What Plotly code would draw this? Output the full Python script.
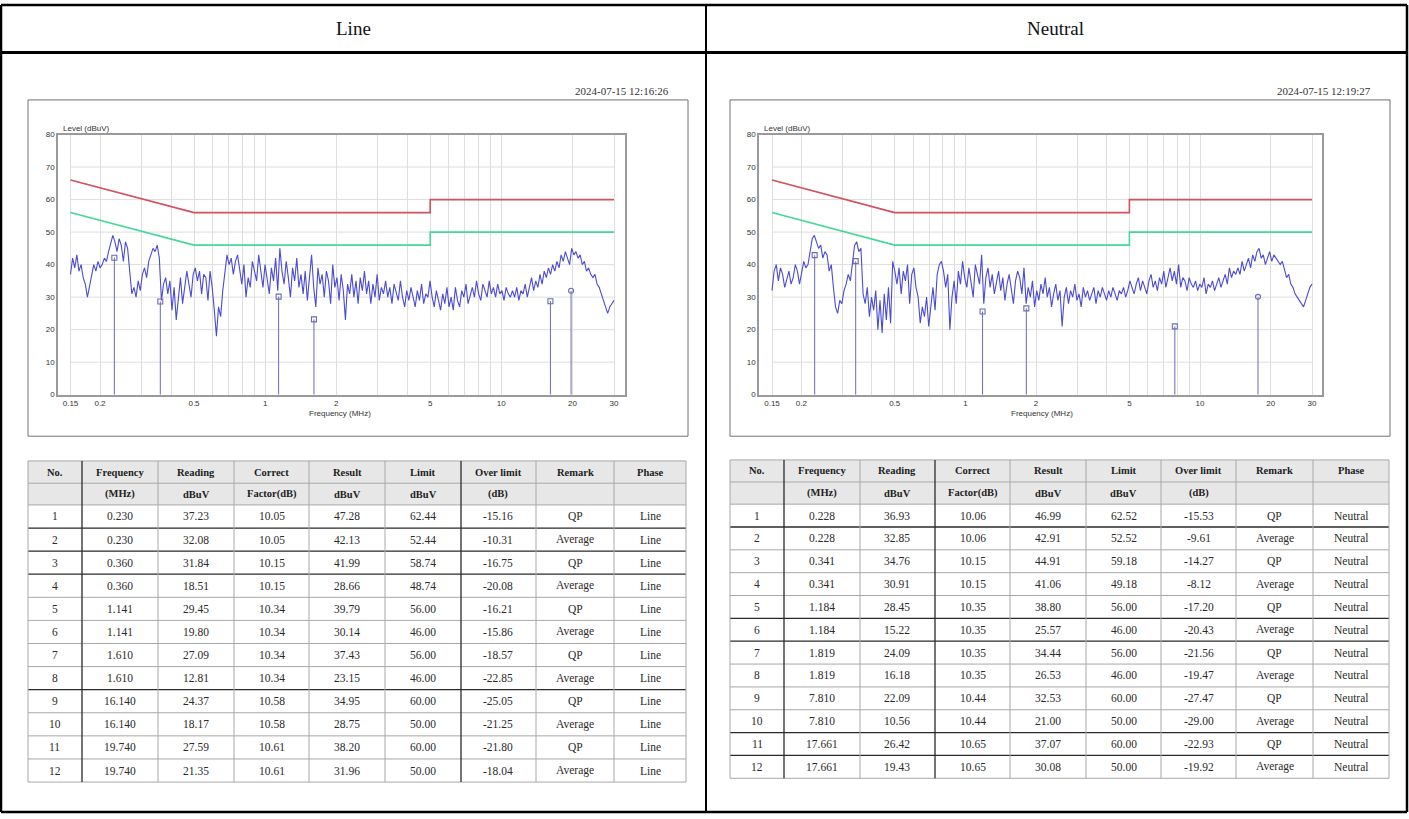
import numpy as np
import plotly.graph_objects as go

W, H = 1409, 819

# ---------------- sweep traces (dBuV), 0.15 - 30 MHz ----------------
line_level = [
    37, 42, 39, 43, 38, 40, 36, 34, 30, 33,
    36, 40, 38, 41, 39, 40, 42, 41, 44, 47,
    49, 47, 44, 48, 46, 41, 47, 45, 37, 31,
    33, 30, 35, 32, 37, 39, 36, 41, 43, 45,
    44, 46, 42, 29, 34, 36, 31, 35, 26, 33,
    23, 30, 36, 28, 33, 38, 34, 30, 37, 39,
    35, 38, 31, 37, 36, 29, 38, 33, 26, 18,
    27, 24, 32, 38, 43, 40, 42, 37, 41, 43,
    39, 34, 40, 30, 36, 33, 41, 38, 35, 43,
    37, 33, 40, 36, 31, 39, 35, 42, 32, 45,
    38, 34, 41, 36, 30, 39, 35, 42, 33, 37,
    31, 38, 29, 36, 43, 33, 27, 39, 34, 37,
    30, 38, 35, 28, 40, 33, 36, 29, 37, 32,
    23, 34, 31, 37, 30, 35, 28, 36, 32, 38,
    31, 35, 28, 34, 30, 37, 29, 33, 31, 35,
    30, 33, 28, 34, 31, 29, 35, 30, 27, 32,
    29, 33, 30, 27, 32, 29, 34, 28, 31, 30,
    35, 30, 27, 32, 29, 26, 31, 28, 33, 27,
    30, 26, 33, 29, 27, 32, 30, 34, 28, 31,
    33, 30, 35, 31, 29, 34, 32, 30, 35, 31,
    33, 30, 34, 31, 32, 29, 33, 31, 30, 32,
    30, 33, 29, 32, 31, 34, 30, 33, 36, 32,
    35, 33, 37, 34, 38, 36, 39, 37, 40, 38,
    41, 39, 43, 41, 44, 42, 40, 45, 43, 44,
    42, 43, 40, 41, 38, 39, 37, 36, 37, 34,
    33, 31, 29, 27, 25, 27, 28, 29,
]

neutral_level = [
    32, 38, 40, 35, 39, 37, 33, 36, 38, 34,
    36, 40, 38, 34, 37, 41, 39, 40, 44, 48,
    49, 47, 45, 46, 42, 44, 43, 38, 40, 33,
    27, 25, 29, 28, 32, 34, 37, 35, 41, 46,
    47, 44, 45, 31, 28, 33, 24, 30, 26, 32,
    20, 29, 19, 31, 23, 33, 22, 41, 38, 34,
    39, 31, 38, 35, 40, 28, 37, 39, 33, 30,
    22, 27, 24, 30, 21, 28, 33, 26, 37, 40,
    41, 38, 33, 37, 20, 30, 35, 28, 38, 34,
    41, 36, 33, 39, 35, 30, 40, 37, 34, 43,
    28, 36, 39, 33, 37, 31, 35, 38, 32, 36,
    29, 34, 37, 32, 28, 35, 38, 36, 31, 39,
    28, 33, 30, 35, 27, 32, 29, 34, 31, 36,
    30, 33, 27, 31, 34, 29, 32, 21, 30, 33,
    28, 32, 30, 34, 29, 31, 27, 33, 30, 32,
    29, 31, 33, 28, 32, 30, 33, 31, 29, 32,
    30, 33, 31, 29, 32, 31, 33, 30, 32, 35,
    33, 31, 34, 36, 32, 35, 33, 31, 35, 37,
    33, 35, 32, 36, 34, 38, 33, 36, 39, 35,
    38, 34, 40, 33, 36, 35, 32, 36, 34, 33,
    35, 32, 34, 33, 36, 31, 34, 33, 35, 32,
    34, 36, 33, 35, 37, 34, 39, 36, 38, 37,
    39, 37, 41, 38, 40, 42, 39, 43, 41, 44,
    45, 42, 43, 40, 42, 44, 41, 43, 42, 41,
    40, 41, 38, 36, 37, 34, 33, 31, 30, 29,
    28, 27, 29, 31, 33, 34,
]

# receiver sweep points are log spaced across the band
line_freq = np.geomspace(0.15, 30, len(line_level))
neutral_freq = np.geomspace(0.15, 30, len(neutral_level))

# CISPR 32 class B conducted limits
limit_freq = [0.15, 0.5, 5, 5, 30]
qp_limit = [66, 56, 56, 60, 60]
av_limit = [56, 46, 46, 50, 50]

# axis labels
x_major = [0.15, 0.2, 0.5, 1, 2, 5, 10, 20, 30]
x_major_text = ["0.15", "0.2", "0.5", "1", "2", "5", "10", "20", "30"]
x_minor = [0.3, 0.4, 0.6, 0.7, 0.8, 0.9, 3, 4, 6, 7, 8, 9]
y_ticks = [0, 10, 20, 30, 40, 50, 60, 70, 80]

# ---------------- result tables ----------------
header_top = ["No.", "Frequency", "Reading", "Correct", "Result", "Limit", "Over limit", "Remark", "Phase"]
header_unit = ["", "(MHz)", "dBuV", "Factor(dB)", "dBuV", "dBuV", "(dB)", "", ""]

line_no = list(range(1, 13))
line_mhz = [0.230, 0.230, 0.360, 0.360, 1.141, 1.141, 1.610, 1.610, 16.140, 16.140, 19.740, 19.740]
line_reading = [37.23, 32.08, 31.84, 18.51, 29.45, 19.80, 27.09, 12.81, 24.37, 18.17, 27.59, 21.35]
line_factor = [10.05, 10.05, 10.15, 10.15, 10.34, 10.34, 10.34, 10.34, 10.58, 10.58, 10.61, 10.61]
line_result = [47.28, 42.13, 41.99, 28.66, 39.79, 30.14, 37.43, 23.15, 34.95, 28.75, 38.20, 31.96]
line_limit = [62.44, 52.44, 58.74, 48.74, 56.00, 46.00, 56.00, 46.00, 60.00, 50.00, 60.00, 50.00]
line_over = [-15.16, -10.31, -16.75, -20.08, -16.21, -15.86, -18.57, -22.85, -25.05, -21.25, -21.80, -18.04]
line_remark = ["QP", "Average"] * 6

neutral_no = list(range(1, 13))
neutral_mhz = [0.228, 0.228, 0.341, 0.341, 1.184, 1.184, 1.819, 1.819, 7.810, 7.810, 17.661, 17.661]
neutral_reading = [36.93, 32.85, 34.76, 30.91, 28.45, 15.22, 24.09, 16.18, 22.09, 10.56, 26.42, 19.43]
neutral_factor = [10.06, 10.06, 10.15, 10.15, 10.35, 10.35, 10.35, 10.35, 10.44, 10.44, 10.65, 10.65]
neutral_result = [46.99, 42.91, 44.91, 41.06, 38.80, 25.57, 34.44, 26.53, 32.53, 21.00, 37.07, 30.08]
neutral_limit = [62.52, 52.52, 59.18, 49.18, 56.00, 46.00, 56.00, 46.00, 60.00, 50.00, 60.00, 50.00]
neutral_over = [-15.53, -9.61, -14.27, -8.12, -17.20, -20.43, -21.56, -19.47, -27.47, -29.00, -22.93, -19.92]
neutral_remark = ["QP", "Average"] * 6

# ---------------- styling ----------------
SERIF = "Liberation Serif, Times New Roman, serif"
NARROW = "Liberation Sans Narrow, Arial Narrow, Liberation Sans, sans-serif"
TRACE_BLUE = "#4b4bd4"
STEM_BLUE = "#6a6ab8"
QP_RED = "#d4505c"
AV_GREEN = "#45d89a"
GRID = "#dedede"
CELL_LINE = "#a8a8a8"
DARK_LINE = "#2a2a2a"
HEADER_FILL = "#e7e7e7"


def px(x):
    return x / W


def py(y):
    return 1 - y / H


def table_rows(no, mhz, reading, factor, result, limit, over, remark, phase):
    rows = []
    for i in range(len(no)):
        rows.append([str(no[i]), f"{mhz[i]:.3f}", f"{reading[i]:.2f}", f"{factor[i]:.2f}",
                     f"{result[i]:.2f}", f"{limit[i]:.2f}", f"{over[i]:.2f}", remark[i], phase])
    return rows


def log_range(x_lo, x_hi, px_lo, px_hi, ax_lo, ax_hi):
    """Axis range (log10) so that 0.15 MHz sits at px_lo and 30 MHz at px_hi."""
    per_dec = (px_hi - px_lo) / (np.log10(x_hi) - np.log10(x_lo))
    return [np.log10(x_lo) - (px_lo - ax_lo) / per_dec, np.log10(x_hi) + (ax_hi - px_hi) / per_dec]


panels = [
    dict(title="Line", stamp="2024-07-15 12:16:26", dx=0, xa="x", ya="y",
         ax=(58, 625), band=(70.5, 614),
         freq=line_freq, level=line_level, mhz=line_mhz, result=line_result, remark=line_remark,
         rows=table_rows(line_no, line_mhz, line_reading, line_factor, line_result,
                         line_limit, line_over, line_remark, "Line"),
         cols=[28, 82, 158, 234, 309, 385, 461, 536, 614, 686],
         head=[462, 484.5, 506.5], row_h=23.35,
         dark_cols=[1, 6], dark_rows=[1, 2, 3, 8]),
    dict(title="Neutral", stamp="2024-07-15 12:19:27", dx=702, xa="x2", ya="y2",
         ax=(759, 1322), band=(772, 1312),
         freq=neutral_freq, level=neutral_level, mhz=neutral_mhz, result=neutral_result,
         remark=neutral_remark,
         rows=table_rows(neutral_no, neutral_mhz, neutral_reading, neutral_factor, neutral_result,
                         neutral_limit, neutral_over, neutral_remark, "Neutral"),
         cols=[730, 784, 860, 935, 1010, 1086, 1161, 1236, 1313, 1389],
         head=[461, 483.3, 505.7], row_h=23.1,
         dark_cols=[1, 3], dark_rows=[1, 5, 6, 10, 11]),
]

fig = go.Figure()
shapes = []
annotations = []
layout_axes = {}

for i, p in enumerate(panels):
    dx = p["dx"]
    xa, ya = p["xa"], p["ya"]
    ax_lo, ax_hi = p["ax"]
    b_lo, b_hi = p["band"]

    # horizontal grid between 0.15 and 30 MHz
    gx, gy = [], []
    for v in y_ticks[1:-1]:
        gx += [0.15, 30, None]
        gy += [v, v, None]
    fig.add_trace(go.Scatter(x=gx, y=gy, mode="lines", line=dict(color=GRID, width=1),
                             xaxis=xa, yaxis=ya, hoverinfo="skip"))

    # limit lines
    fig.add_trace(go.Scatter(x=limit_freq, y=qp_limit, mode="lines",
                             line=dict(color=QP_RED, width=1.6), xaxis=xa, yaxis=ya))
    fig.add_trace(go.Scatter(x=limit_freq, y=av_limit, mode="lines",
                             line=dict(color=AV_GREEN, width=1.6), xaxis=xa, yaxis=ya))

    # measured spectrum
    fig.add_trace(go.Scatter(x=p["freq"], y=p["level"], mode="lines",
                             line=dict(color=TRACE_BLUE, width=1.1), xaxis=xa, yaxis=ya))

    # final-scan markers: stems up to the average result
    avg_f = [f for f, r in zip(p["mhz"], p["remark"]) if r == "Average"]
    avg_v = [v for v, r in zip(p["result"], p["remark"]) if r == "Average"]
    sx, sy = [], []
    for f, v in zip(avg_f, avg_v):
        sx += [f, f, None]
        sy += [0, v, None]
    fig.add_trace(go.Scatter(x=sx, y=sy, mode="lines", line=dict(color=STEM_BLUE, width=1),
                             xaxis=xa, yaxis=ya))
    symbols = ["square-open"] * (len(avg_f) - 1) + ["circle-open"]
    fig.add_trace(go.Scatter(x=avg_f, y=avg_v, mode="markers",
                             marker=dict(symbol=symbols, size=5, color=STEM_BLUE,
                                         line=dict(width=1.1, color=STEM_BLUE)),
                             xaxis=xa, yaxis=ya))

    axis_font = dict(family=NARROW, size=8, color="#333")
    suffix = "" if i == 0 else "2"
    layout_axes["xaxis" + suffix] = dict(
        type="log", domain=[px(ax_lo), px(ax_hi)],
        range=log_range(0.15, 30, b_lo, b_hi, ax_lo, ax_hi),
        anchor=ya, tickmode="array", tickvals=x_major, ticktext=x_major_text,
        showgrid=True, gridcolor=GRID, gridwidth=1,
        minor=dict(tickmode="array", tickvals=x_minor, showgrid=True, gridcolor=GRID, gridwidth=1),
        showline=True, linecolor="#9a9a9a", linewidth=1.5, mirror=True,
        zeroline=False, ticks="", tickfont=axis_font, fixedrange=True)
    layout_axes["yaxis" + suffix] = dict(
        domain=[py(395), py(132)], range=[0, 80], anchor=xa,
        tickmode="array", tickvals=y_ticks, showgrid=False,
        showline=True, linecolor="#9a9a9a", linewidth=1.5, mirror=True,
        zeroline=False, ticks="", tickfont=axis_font, fixedrange=True)

    # chart frame, axis captions, timestamp, panel title
    shapes.append(dict(type="rect", xref="paper", yref="paper",
                       x0=px(28 + dx), x1=px(688 + dx), y0=py(437), y1=py(97),
                       line=dict(color="#707070", width=1), layer="below"))
    annotations.append(dict(x=px(ax_lo + 3), y=py(126), xref="paper", yref="paper",
                            text="Level (dBuV)", showarrow=False, xanchor="left", yanchor="middle",
                            font=dict(family=NARROW, size=8, color="#333")))
    annotations.append(dict(x=px(340 + dx), y=py(414), xref="paper", yref="paper",
                            text="Frequency (MHz)", showarrow=False, xanchor="center",
                            yanchor="middle", font=dict(family=NARROW, size=8, color="#333")))
    annotations.append(dict(x=px(671 + dx), y=py(88), xref="paper", yref="paper",
                            text=p["stamp"], showarrow=False, xanchor="right", yanchor="middle",
                            font=dict(family=SERIF, size=11, color="#333")))
    annotations.append(dict(x=px(353 + dx), y=py(25), xref="paper", yref="paper",
                            text=p["title"], showarrow=False, xanchor="center", yanchor="middle",
                            font=dict(family=SERIF, size=19, color="#111")))

    # result table
    cols = p["cols"]
    h0, h1, h2 = p["head"]
    row_edges = [h0, h1, h2] + [h2 + p["row_h"] * (k + 1) for k in range(len(p["rows"]))]
    shapes.append(dict(type="rect", xref="paper", yref="paper",
                       x0=px(cols[0]), x1=px(cols[-1]), y0=py(h2), y1=py(h0),
                       fillcolor=HEADER_FILL, line=dict(width=0), layer="below"))
    for k, yy in enumerate(row_edges):
        dark = (k - 2) in p["dark_rows"]
        shapes.append(dict(type="line", xref="paper", yref="paper",
                           x0=px(cols[0]), x1=px(cols[-1]), y0=py(yy), y1=py(yy),
                           line=dict(color=DARK_LINE if dark else CELL_LINE,
                                     width=1.3 if dark else 1)))
    for k, xx in enumerate(cols):
        dark = k in p["dark_cols"]
        shapes.append(dict(type="line", xref="paper", yref="paper",
                           x0=px(xx), x1=px(xx), y0=py(row_edges[-1]), y1=py(h0),
                           line=dict(color=DARK_LINE if dark else CELL_LINE,
                                     width=1.3 if dark else 1)))
    for c in range(len(header_top)):
        cx = (cols[c] + cols[c + 1]) / 2
        for txt, (ya0, ya1) in ((header_top[c], (h0, h1)), (header_unit[c], (h1, h2))):
            if txt:
                annotations.append(dict(x=px(cx), y=py((ya0 + ya1) / 2), xref="paper",
                                        yref="paper", text=f"<b>{txt}</b>", showarrow=False,
                                        xanchor="center", yanchor="middle",
                                        font=dict(family=SERIF, size=10.5, color="#222")))
    for r, row in enumerate(p["rows"]):
        cy = (row_edges[r + 2] + row_edges[r + 3]) / 2
        for c, txt in enumerate(row):
            cx = (cols[c] + cols[c + 1]) / 2
            annotations.append(dict(x=px(cx), y=py(cy), xref="paper", yref="paper", text=txt,
                                    showarrow=False, xanchor="center", yanchor="middle",
                                    font=dict(family=SERIF, size=11.5, color="#2a2a2a")))

# outer page frame: header row and column divider
frame = [
    (1, 1, 1407, 1, 2.5), (1, 817, 1407, 817, 2.5),
    (1, 1, 1, 817, 2.5), (1407, 1, 1407, 817, 2.5),
    (1, 49, 1407, 49, 3), (706, 1, 706, 817, 2),
]
for x0, y0, x1, y1, w in frame:
    shapes.append(dict(type="line", xref="paper", yref="paper",
                       x0=px(x0), x1=px(x1), y0=py(y0), y1=py(y1),
                       line=dict(color="#000", width=w)))

fig.update_layout(
    width=W, height=H, autosize=False,
    margin=dict(l=0, r=0, t=0, b=0, pad=0),
    paper_bgcolor="white", plot_bgcolor="white",
    showlegend=False, hovermode=False,
    shapes=shapes, annotations=annotations,
    **layout_axes,
)

fig.write_html("out.html")
